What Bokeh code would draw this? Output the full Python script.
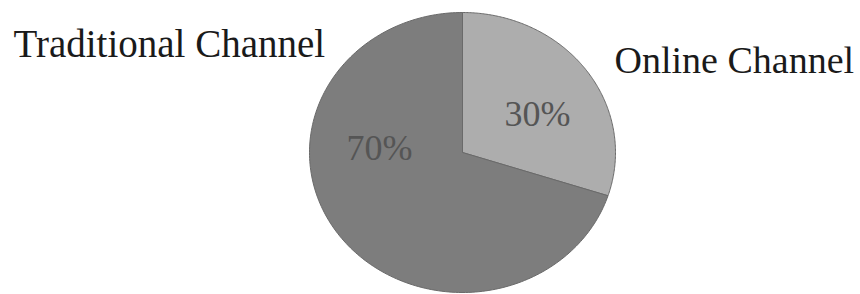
import numpy as np
from bokeh.plotting import figure
from bokeh.models import Range1d, ColumnDataSource
from bokeh.core.properties import value
from bokeh.embed import file_html
from bokeh.resources import INLINE

# data
categories = ["Online Channel", "Traditional Channel"]
shares = [30, 70]
pct_labels = ["30%", "70%"]
slice_colors = ["#adadad", "#7d7d7d"]

# layout (pixel-like coordinates of the reference)
cx, cy, rx, ry = 462, 152, 153, 140
W, H = 860, 294

p = figure(width=W, height=H, output_backend="svg", toolbar_location=None,
           x_range=Range1d(0, W), y_range=Range1d(H, 0),
           min_border=0, outline_line_color=None)
p.axis.visible = False
p.grid.visible = False
p.background_fill_color = "white"

total = float(sum(shares))
xs, ys = [], []
start = np.pi / 2
for s in shares:
    end = start - 2 * np.pi * s / total
    t = np.linspace(start, end, 200)
    xs.append([cx] + list(cx + rx * np.cos(t)) + [cx])
    ys.append([cy] + list(cy - ry * np.sin(t)) + [cy])
    start = end

src = ColumnDataSource(dict(xs=xs, ys=ys, color=slice_colors))
p.patches("xs", "ys", source=src, fill_color="color", line_color="#6a6a6a", line_width=1)

# percentage labels
pct_src = ColumnDataSource(dict(x=[537, 379], y=[113, 147], t=pct_labels))
p.text("x", "y", text="t", source=pct_src, text_font=value("Liberation Serif"),
       text_font_size="36px", text_color="#555555", text_align="center",
       text_baseline="middle")

# category labels
cat_src = ColumnDataSource(dict(x=[614, 13], y=[59, 43], t=categories,
                                fs=["38px", "39px"]))
p.text("x", "y", text="t", source=cat_src, text_font=value("Liberation Serif"),
       text_font_size="fs", text_color="#1a1a1a", text_align="left",
       text_baseline="middle")

open("out.html", "w").write(file_html(p, INLINE))
